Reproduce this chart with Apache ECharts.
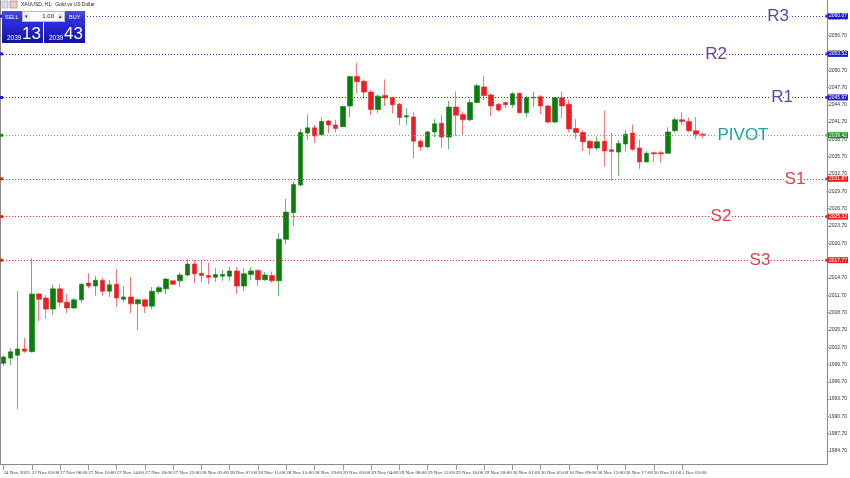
<!DOCTYPE html>
<html><head><meta charset="utf-8">
<script src="https://cdn.jsdelivr.net/npm/echarts@6/dist/echarts.min.js"></script>
<style>html,body{margin:0;padding:0;background:#fff}#c{width:850px;height:478px}</style>
</head><body><div id="c"></div>
<script>
// ---- data ----
const sessions = [["24 Nov",20,22],["27 Nov",1,22],["28 Nov",0,22],["29 Nov",0,22],["30 Nov",0,22],["1 Dec",0,5]];
const opens = [1999.9,2000.8,2001.3,2002.4,2001.9,2011.9,2011.2,2009.3,2012.8,2010.5,2009.5,2010.9,2013.8,2013.3,2014.3,2012.4,2013.6,2011.0,2011.4,2010.2,2010.9,2009.8,2012.3,2012.8,2014.2,2014.2,2015.2,2017.1,2015.5,2015.1,2014.8,2015.0,2015.0,2015.9,2013.3,2015.3,2016.0,2014.4,2015.1,2014.2,2021.4,2026.0,2030.8,2039.8,2040.7,2039.5,2041.9,2041.2,2040.9,2044.5,2049.6,2048.8,2046.9,2043.9,2046.3,2045.9,2044.8,2042.6,2042.6,2038.4,2037.4,2040.0,2041.5,2039.1,2044.3,2043.0,2042.1,2045.1,2047.8,2046.4,2044.8,2045.1,2044.7,2046.7,2043.3,2045.9,2046.1,2044.5,2041.7,2045.9,2044.8,2040.6,2039.9,2038.4,2037.2,2038.4,2036.9,2036.5,2037.9,2039.8,2037.2,2034.8,2036.4,2036.4,2036.3,2040.2,2042.1,2041.8,2040.2,2039.6];
const highs = [2001.3,2002.5,2012.4,2004.3,2018.1,2012.1,2011.7,2013.5,2013.6,2011.9,2011.2,2013.8,2015.5,2015.0,2014.7,2014.3,2016.2,2013.3,2014.9,2011.2,2011.0,2013.1,2013.3,2014.7,2014.3,2015.6,2018.0,2017.8,2017.6,2017.3,2016.4,2016.1,2016.6,2016.6,2016.4,2016.6,2016.2,2015.7,2015.8,2022.4,2028.4,2031.4,2040.5,2043.0,2041.2,2042.5,2042.1,2042.1,2044.5,2049.7,2052.0,2049.1,2047.3,2046.5,2049.1,2046.1,2045.1,2044.1,2043.4,2038.7,2040.2,2042.2,2042.9,2045.4,2047.0,2043.5,2045.8,2048.3,2049.7,2046.7,2045.0,2045.2,2046.9,2046.8,2046.3,2047.0,2046.4,2044.7,2046.0,2047.0,2045.6,2042.2,2040.3,2038.6,2039.2,2043.7,2039.8,2038.6,2040.3,2041.3,2038.7,2036.7,2036.6,2036.7,2040.8,2042.5,2043.4,2042.5,2042.6,2039.9];
const lows = [1999.4,1999.6,1992.0,2001.7,2001.8,2007.2,2007.6,2008.3,2009.7,2008.6,2009.3,2010.4,2012.9,2011.6,2011.6,2011.4,2009.7,2010.5,2008.6,2005.7,2008.6,2009.3,2011.9,2011.9,2013.5,2013.1,2014.9,2013.8,2014.0,2013.6,2014.0,2014.2,2014.2,2011.9,2012.4,2014.3,2013.3,2014.2,2013.9,2011.6,2020.6,2023.7,2030.5,2038.6,2038.1,2039.3,2039.8,2039.9,2040.9,2042.6,2046.7,2045.8,2042.9,2043.3,2044.5,2043.2,2041.2,2041.2,2035.4,2036.7,2037.3,2039.1,2037.2,2037.0,2039.3,2039.5,2041.8,2045.0,2045.5,2042.8,2043.5,2044.1,2044.2,2043.2,2042.5,2044.3,2043.1,2041.4,2041.5,2042.4,2039.9,2038.7,2036.7,2036.1,2036.9,2034.0,2031.5,2032.4,2036.6,2036.7,2033.6,2034.7,2034.8,2034.7,2036.2,2039.9,2041.2,2039.9,2038.7,2038.9];
const closes = [2001.0,2001.9,2002.4,2002.0,2011.9,2011.0,2009.3,2012.8,2010.5,2009.5,2010.9,2013.6,2013.3,2014.3,2012.4,2013.5,2011.2,2011.4,2010.2,2010.9,2009.8,2012.4,2013.0,2014.5,2013.6,2015.2,2017.1,2015.4,2015.1,2014.8,2015.3,2015.3,2015.9,2013.3,2015.4,2015.9,2014.4,2015.2,2014.2,2021.4,2026.1,2030.9,2039.9,2040.7,2039.3,2041.8,2041.2,2040.6,2044.4,2049.6,2048.7,2046.9,2043.9,2046.2,2045.9,2044.7,2042.5,2042.8,2038.4,2037.4,2040.0,2041.4,2039.1,2044.3,2042.9,2042.1,2045.1,2048.0,2046.3,2044.5,2043.8,2044.7,2046.6,2043.3,2045.9,2046.0,2044.5,2041.7,2045.9,2044.5,2040.5,2039.9,2038.3,2037.2,2038.3,2036.7,2036.6,2038.0,2039.6,2037.0,2034.8,2036.3,2036.2,2036.2,2040.0,2042.1,2041.8,2040.2,2039.6,2039.4];
const xTickLabels = ["24 Nov 2023","27 Nov 02:00","27 Nov 06:00","27 Nov 10:00","27 Nov 14:00","27 Nov 18:00","27 Nov 22:00","28 Nov 03:00","28 Nov 07:00","28 Nov 11:00","28 Nov 15:00","28 Nov 19:00","29 Nov 00:00","29 Nov 04:00","29 Nov 08:00","29 Nov 12:00","29 Nov 16:00","29 Nov 20:00","30 Nov 01:00","30 Nov 05:00","30 Nov 09:00","30 Nov 13:00","30 Nov 17:00","30 Nov 21:00","1 Dec 02:00"];
const yTickValues = [1984.7,1987.7,1990.7,1993.7,1996.7,1999.7,2002.7,2005.7,2008.7,2011.7,2014.7,2017.7,2020.7,2023.7,2026.7,2029.7,2032.7,2035.7,2038.7,2041.7,2044.7,2047.7,2050.7,2053.7,2056.7,2059.7];
const levelNames = ["R3","R2","R1","PIVOT","S1","S2","S3"];
const levelValues = [2060.07,2053.52,2045.97,2039.42,2031.87,2025.32,2017.77];
const bidPrice = ["2039","13"], askPrice = ["2039","43"], lotSize = "1.00";

// ---- build ----
const categories = [];
sessions.forEach(s => { for (let h = s[1]; h <= s[2]; h++) categories.push(s[0] + " " + String(h).padStart(2,"0") + ":00"); });
const emptySlots = 17;
for (let k = 0; k < emptySlots; k++) categories.push("");
const candles = opens.map((o,i) => [o, closes[i], lows[i], highs[i]]);

const levelLine = ["#3c3ca0","#3c3ca0","#3c3ca0","#7fa07f","#d03a3a","#d03a3a","#d03a3a"];
const levelBox = ["#1c1cc8","#1c1cc8","#1c1cc8","#1f8a1f","#e62020","#e62020","#e62020"];
const levelText = ["#62429a","#62429a","#62429a","#1aa396","#e0404e","#e0404e","#e0404e"];
const levelLabelX = [778,716,782,743,795,721,760];
const FONT = "Liberation Sans";
const NARROW = "Liberation Sans Narrow";
const showTick = (i) => i % 4 === 0 && i <= 96;

const chart = echarts.init(document.getElementById('c'), null, {renderer:'canvas'});
const option = {
  animation: false,
  backgroundColor: '#ffffff',
  grid: { left: -1.87, right: 17, top: 0, bottom: 14, containLabel: false },
  xAxis: {
    type: 'category', data: categories, boundaryGap: true,
    axisLine: { show: true, lineStyle: { color: '#8a8a8a', width: 1 } },
    axisTick: { show: true, alignWithLabel: true, length: 6, lineStyle: { color: '#9a9a9a' }, interval: showTick },
    axisLabel: { show: true, interval: showTick, hideOverlap: false, align: 'left', margin: 6,
      fontSize: 5, fontFamily: NARROW, color: '#333',
      formatter: (v, i) => xTickLabels[Math.round(i / 4)] || '' },
    splitLine: { show: false }
  },
  yAxis: {
    type: 'value', position: 'right', min: 1982.45, max: 2062.86, scale: true,
    axisLine: { show: true, lineStyle: { color: '#8a8a8a', width: 1 } },
    axisTick: { show: true, length: 2, customValues: yTickValues, lineStyle: { color: '#8a8a8a' } },
    axisLabel: { show: true, customValues: yTickValues, margin: 2, fontSize: 5, fontFamily: FONT, color: '#333',
      formatter: v => Number(v).toFixed(2) },
    splitLine: { show: false }
  },
  series: [{
    type: 'candlestick', data: candles, barWidth: 5,
    itemStyle: { color: '#0a7d0a', color0: '#ee1c24', borderColor: '#0a7d0a', borderColor0: '#ee1c24', borderWidth: 0.6 },
    markLine: {
      silent: true, symbol: ['none','rect'], symbolSize: 3, animation: false,
      data: levelValues.map((v,i) => ({
        yAxis: v, name: levelNames[i],
        lineStyle: { color: levelLine[i], type: [1,2], width: 1 },
        label: { show: true, position: 'end', distance: 1, formatter: p => Number(p.value).toFixed(2),
          fontSize: 5, fontFamily: FONT, color: '#fff', backgroundColor: levelBox[i], padding: [1,1,0,1] }
      }))
    }
  }]
};
chart.setOption(option);

const yPix = v => chart.convertToPixel({ yAxisIndex: 0 }, v);
const graphics = [];
graphics.push({ type: 'line', shape: { x1: 0.5, y1: 0, x2: 0.5, y2: 464 }, style: { stroke: '#8a8a8a', lineWidth: 1 }, z: 50 });
levelValues.forEach((v,i) => {
  const y = yPix(v);
  graphics.push({ type: 'rect', shape: { x: 0, y: y - 1.5, width: 3, height: 3 }, style: { fill: levelBox[i] }, z: 60 });
  graphics.push({ type: 'text', x: levelLabelX[i], y: y, z: 70,
    style: { text: levelNames[i], fontSize: 17, fontFamily: FONT, fill: levelText[i], align: 'center', verticalAlign: 'middle',
      stroke: '#ffffff', lineWidth: 3, shadowColor: 'rgba(0,0,0,0.45)', shadowBlur: 2, shadowOffsetX: 1, shadowOffsetY: 1 } });
});
graphics.push({ type: 'rect', shape: { x: 2, y: 1, width: 6, height: 7 }, style: { fill: '#d8dde8', stroke: '#8a95b0', lineWidth: 0.5 }, z: 80 });
graphics.push({ type: 'rect', shape: { x: 10, y: 1, width: 7, height: 7 }, style: { fill: '#e8d0d0', stroke: '#b04040', lineWidth: 0.5 }, z: 80 });
graphics.push({ type: 'text', x: 21, y: 4.5, z: 80, style: { text: 'XAUUSD, H1:  Gold vs US Dollar', fontSize: 5, fontFamily: FONT, fill: '#222', verticalAlign: 'middle' } });
const blueGrad = { type: 'linear', x: 0, y: 0, x2: 0, y2: 1, colorStops: [{ offset: 0, color: '#2e2ee0' }, { offset: 1, color: '#12129e' }] };
const tabGrad = { type: 'linear', x: 0, y: 0, x2: 0, y2: 1, colorStops: [{ offset: 0, color: '#4a4ae6' }, { offset: 1, color: '#2a2ac8' }] };
graphics.push({ type: 'rect', shape: { x: 2, y: 11, width: 20, height: 11 }, style: { fill: tabGrad }, z: 80 });
graphics.push({ type: 'rect', shape: { x: 65, y: 11, width: 20, height: 11 }, style: { fill: tabGrad }, z: 80 });
graphics.push({ type: 'rect', shape: { x: 2, y: 22, width: 41, height: 21 }, style: { fill: blueGrad }, z: 80 });
graphics.push({ type: 'rect', shape: { x: 44, y: 22, width: 41, height: 21 }, style: { fill: blueGrad }, z: 80 });
graphics.push({ type: 'rect', shape: { x: 22.5, y: 11.5, width: 42, height: 10 }, style: { fill: '#ffffff', stroke: '#b8b8c8', lineWidth: 1 }, z: 80 });
graphics.push({ type: 'rect', shape: { x: 23.5, y: 12.5, width: 6, height: 8 }, style: { fill: '#ececf0' }, z: 81 });
graphics.push({ type: 'rect', shape: { x: 57.5, y: 12.5, width: 6, height: 8 }, style: { fill: '#ececf0' }, z: 81 });
graphics.push({ type: 'text', x: 26.5, y: 16.5, z: 82, style: { text: '▾', fontSize: 5, fill: '#222', align: 'center', verticalAlign: 'middle' } });
graphics.push({ type: 'text', x: 60.5, y: 16.5, z: 82, style: { text: '▴', fontSize: 5, fill: '#222', align: 'center', verticalAlign: 'middle' } });
graphics.push({ type: 'text', x: 54, y: 16.5, z: 82, style: { text: lotSize, fontSize: 6, fontFamily: FONT, fill: '#222', align: 'right', verticalAlign: 'middle' } });
graphics.push({ type: 'text', x: 5, y: 17, z: 82, style: { text: 'SELL', fontSize: 5.5, fontFamily: FONT, fill: '#fff', verticalAlign: 'middle' } });
graphics.push({ type: 'text', x: 69, y: 17, z: 82, style: { text: 'BUY', fontSize: 5.5, fontFamily: FONT, fill: '#fff', verticalAlign: 'middle' } });
graphics.push({ type: 'text', x: 7, y: 38, z: 82, style: { text: bidPrice[0], fontSize: 6.5, fontFamily: FONT, fill: '#fff', verticalAlign: 'middle' } });
graphics.push({ type: 'text', x: 22, y: 34, z: 82, style: { text: bidPrice[1], fontSize: 17, fontFamily: FONT, fill: '#fff', verticalAlign: 'middle' } });
graphics.push({ type: 'text', x: 49, y: 38, z: 82, style: { text: askPrice[0], fontSize: 6.5, fontFamily: FONT, fill: '#fff', verticalAlign: 'middle' } });
graphics.push({ type: 'text', x: 64, y: 34, z: 82, style: { text: askPrice[1], fontSize: 17, fontFamily: FONT, fill: '#fff', verticalAlign: 'middle' } });
chart.setOption({ graphic: graphics });
</script></body></html>
